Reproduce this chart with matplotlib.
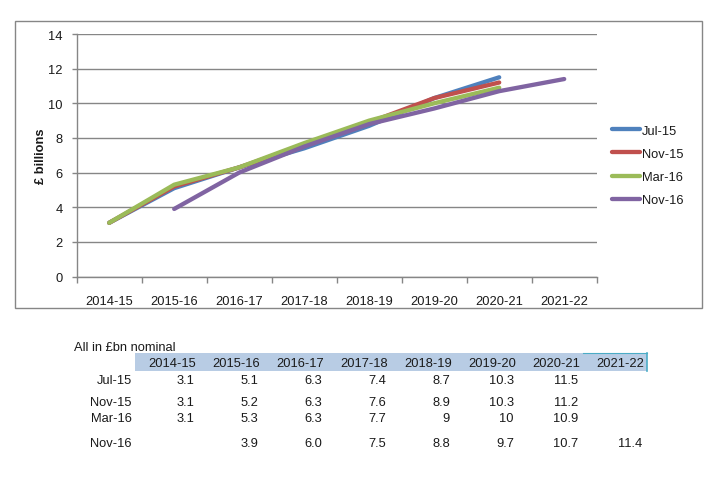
import matplotlib
matplotlib.use("Agg")
import matplotlib.pyplot as plt
from matplotlib.patches import Rectangle
import numpy as np

plt.rcParams['font.family'] = ['Liberation Sans', 'DejaVu Sans']

# ---- data ----
years = ["2014-15", "2015-16", "2016-17", "2017-18", "2018-19", "2019-20", "2020-21", "2021-22"]
series_names = ["Jul-15", "Nov-15", "Mar-16", "Nov-16"]
jul15 = [3.1, 5.1, 6.3, 7.4, 8.7, 10.3, 11.5, None]
nov15 = [3.1, 5.2, 6.3, 7.6, 8.9, 10.3, 11.2, None]
mar16 = [3.1, 5.3, 6.3, 7.7, 9, 10, 10.9, None]
nov16 = [None, 3.9, 6.0, 7.5, 8.8, 9.7, 10.7, 11.4]
# table text as shown
table_rows = {
    "Jul-15": ["3.1", "5.1", "6.3", "7.4", "8.7", "10.3", "11.5", ""],
    "Nov-15": ["3.1", "5.2", "6.3", "7.6", "8.9", "10.3", "11.2", ""],
    "Mar-16": ["3.1", "5.3", "6.3", "7.7", "9", "10", "10.9", ""],
    "Nov-16": ["", "3.9", "6.0", "7.5", "8.8", "9.7", "10.7", "11.4"],
}
colors = ["#4F81BD", "#C0504D", "#9BBB59", "#8064A2"]

W, H = 724, 489
fig = plt.figure(figsize=(W / 100, H / 100), dpi=100)

def fx(px):
    return px / W

def fy(py):
    return 1 - py / H

grey = "#868686"
fs = 9.3
tc = "#1a1a1a"

# outer chart border
fig.patches.append(Rectangle((fx(14.7), fy(309)), fx(702) - fx(14.7), fy(21.7) - fy(309),
                             transform=fig.transFigure, fill=False, edgecolor=grey, lw=1.0))

ax = fig.add_axes([fx(76.7), fy(277.5), 520 / W, (277.5 - 35) / H])
x = np.arange(len(years))
for vals, name, c in zip([jul15, nov15, mar16, nov16], series_names, colors):
    v = np.array([np.nan if a is None else a for a in vals], dtype=float)
    ax.plot(x, v, color=c, lw=3.1, solid_capstyle='round', solid_joinstyle='round', label=name)

ax.set_xlim(-0.5, len(years) - 0.5)
ax.set_ylim(0, 14)
ax.set_yticks(np.arange(0, 15, 2))
ax.set_yticklabels([str(int(t)) for t in np.arange(0, 15, 2)])
ax.set_xticks(x)
ax.set_xticklabels(years)
ax.set_xticks(np.arange(-0.5, len(years)), minor=True)
ax.tick_params(axis='x', which='major', length=0, pad=13, labelsize=fs, labelcolor=tc)
ax.tick_params(axis='x', which='minor', length=4, color=grey, width=1, direction='out')
ax.tick_params(axis='y', length=3.5, color=grey, width=1, pad=6.5, labelsize=fs, labelcolor=tc)
ax.grid(axis='y', color=grey, lw=1)
ax.set_axisbelow(True)
for s in ['top', 'right']:
    ax.spines[s].set_visible(False)
for s in ['left', 'bottom']:
    ax.spines[s].set_color(grey)
    ax.spines[s].set_linewidth(1)
ax.set_ylabel("£ billions", fontsize=fs, fontweight='bold', color=tc)
ax.yaxis.set_label_coords((47 - 76.7) / 520, 0.5)

leg = fig.legend(loc='center left', bbox_to_anchor=(fx(612), fy(166.5)), frameon=False,
                 fontsize=fs, handlelength=2.2, handletextpad=0.1, labelspacing=0.86,
                 borderaxespad=0, borderpad=0)
for t in leg.get_texts():
    t.set_color(tc)

# ---- table below ----
fig.text(fx(74), fy(347.7), "All in £bn nominal", fontsize=fs, color=tc, va='center', ha='left')
fig.patches.append(Rectangle((fx(135), fy(371.7)), fx(646.7) - fx(135), fy(354.3) - fy(371.7),
                             transform=fig.transFigure, facecolor="#B8CCE4", edgecolor='none'))
fig.lines.append(plt.Line2D([fx(646.7), fx(646.7)], [fy(354.3), fy(371.7)],
                            transform=fig.transFigure, color="#4BACC6", lw=1.2))
fig.lines.append(plt.Line2D([fx(583), fx(646.7)], [fy(354.3), fy(354.3)],
                            transform=fig.transFigure, color="#4BACC6", lw=0.8))
col_right = [196 + 64 * i for i in range(len(years))]
for xr, yr in zip(col_right, years):
    fig.text(fx(xr), fy(364), yr, fontsize=fs, color=tc, ha='right', va='center')
row_y = [381, 402.7, 419.3, 444.3]
for yy, name in zip(row_y, series_names):
    fig.text(fx(131.7), fy(yy), name, fontsize=fs, color=tc, ha='right', va='center')
    for xr, val in zip(col_right, table_rows[name]):
        if val:
            fig.text(fx(xr - 2), fy(yy), val, fontsize=fs, color=tc, ha='right', va='center')

fig.savefig("out.png", dpi=100, facecolor='white')
